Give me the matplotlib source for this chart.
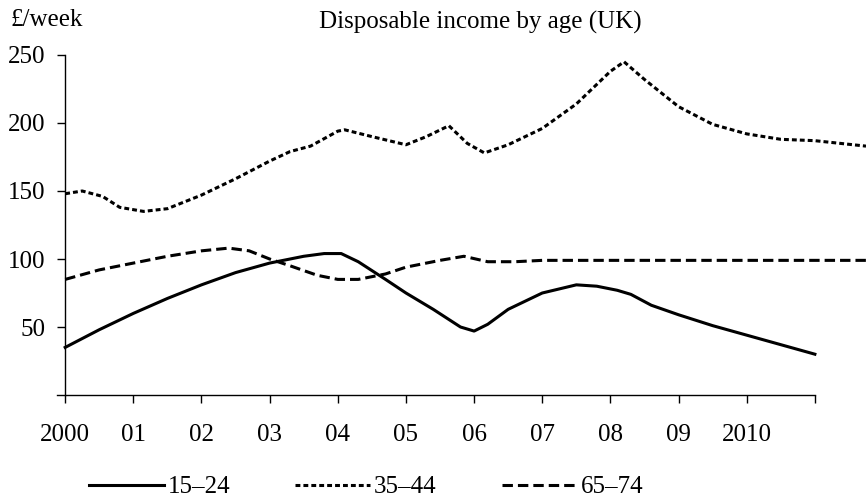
import matplotlib
matplotlib.use("Agg")
import matplotlib.pyplot as plt

plt.rcParams['font.family'] = ['Liberation Serif', 'DejaVu Serif']
plt.rcParams['lines.scale_dashes'] = False

# values (year, £/week)
years_15_24 = [2000, 2000.5, 2001, 2001.5, 2002, 2002.5, 2003, 2003.5, 2003.8, 2004.05,
               2004.3, 2004.7, 2005, 2005.4, 2005.8, 2006, 2006.2, 2006.5, 2007, 2007.5,
               2007.8, 2008.1, 2008.3, 2008.6, 2009, 2009.5, 2010, 2010.5, 2011]
inc_15_24 = [35, 48, 60, 71, 81, 90, 97, 102, 104, 104,
             98, 85, 75, 63, 50, 47, 52, 63, 75, 81,
             80, 77, 74, 66, 59, 51, 44, 37, 30]

years_35_44 = [2000, 2000.25, 2000.55, 2000.8, 2001.15, 2001.5, 2002, 2002.5, 2003, 2003.3,
               2003.6, 2004, 2004.1, 2004.5, 2005, 2005.3, 2005.63, 2005.9, 2006.15, 2006.5,
               2007, 2007.5, 2008, 2008.2, 2008.5, 2009, 2009.5, 2010, 2010.5, 2011, 2011.75]
inc_35_44 = [148, 150, 146, 138, 135, 137, 147, 159, 172, 179,
             183, 194, 195, 190, 184, 190, 198, 185, 178, 184,
             196, 214, 238, 245, 232, 212, 199, 192, 188, 187, 183]

years_65_74 = [2000, 2000.5, 2001, 2001.5, 2002, 2002.4, 2002.7, 2003, 2003.3, 2003.7,
               2004, 2004.3, 2004.7, 2005, 2005.5, 2005.85, 2006.2, 2006.6, 2007, 2011.75]
inc_65_74 = [85, 92, 97, 102, 106, 108, 106, 100, 95, 88,
             85, 85, 89, 94, 99, 102, 98, 98, 99, 99]

tick_years = list(range(2000, 2012))
tick_labels = ['2000', '01', '02', '03', '04', '05', '06', '07', '08', '09', '2010', '']
y_ticks = [50, 100, 150, 200, 250]

fig = plt.figure(figsize=(8.66, 4.98), dpi=100)
ax = fig.add_axes([57 / 866, 103 / 498, 809 / 866, 340 / 498])

lw = 2.2
l1, = ax.plot(years_15_24, inc_15_24, color='black', lw=lw, ls='-', label='15–24')
l2, = ax.plot(years_35_44, inc_35_44, color='black', lw=lw, ls=(0, (3.5, 2.2)), label='35–44')
l3, = ax.plot(years_65_74, inc_65_74, color='black', lw=lw, ls=(0, (7.5, 3.6)), label='65–74')

ax.set_xlim(1999.88, 2011.75)
ax.set_ylim(0, 250)
ax.spines['top'].set_visible(False)
ax.spines['right'].set_visible(False)
ax.spines['left'].set_position(('data', 2000))
ax.spines['bottom'].set_bounds(1999.88, 2011)
for s in ('left', 'bottom'):
    ax.spines[s].set_linewidth(1.0)

ax.set_xticks(tick_years)
ax.set_xticklabels(tick_labels)
ax.set_yticks(y_ticks)
ax.tick_params(axis='x', direction='out', length=6, width=1.0, labelsize=18, pad=15)
ax.tick_params(axis='y', direction='out', length=6, width=1.0, labelsize=18, pad=8)

fig.text(480 / 866, 1 - 22 / 498, 'Disposable income by age (UK)', ha='center', va='center', fontsize=18)
fig.text(10 / 866, 1 - 20 / 498, '£/week', ha='left', va='center', fontsize=18)

fig.legend(handles=[l1, l2, l3], loc='center', bbox_to_anchor=(366 / 866, 1 - 487 / 498),
           ncol=3, frameon=False, fontsize=18, handlelength=3.0, columnspacing=2.6,
           handletextpad=0.15)

fig.savefig('out.png', dpi=100)
